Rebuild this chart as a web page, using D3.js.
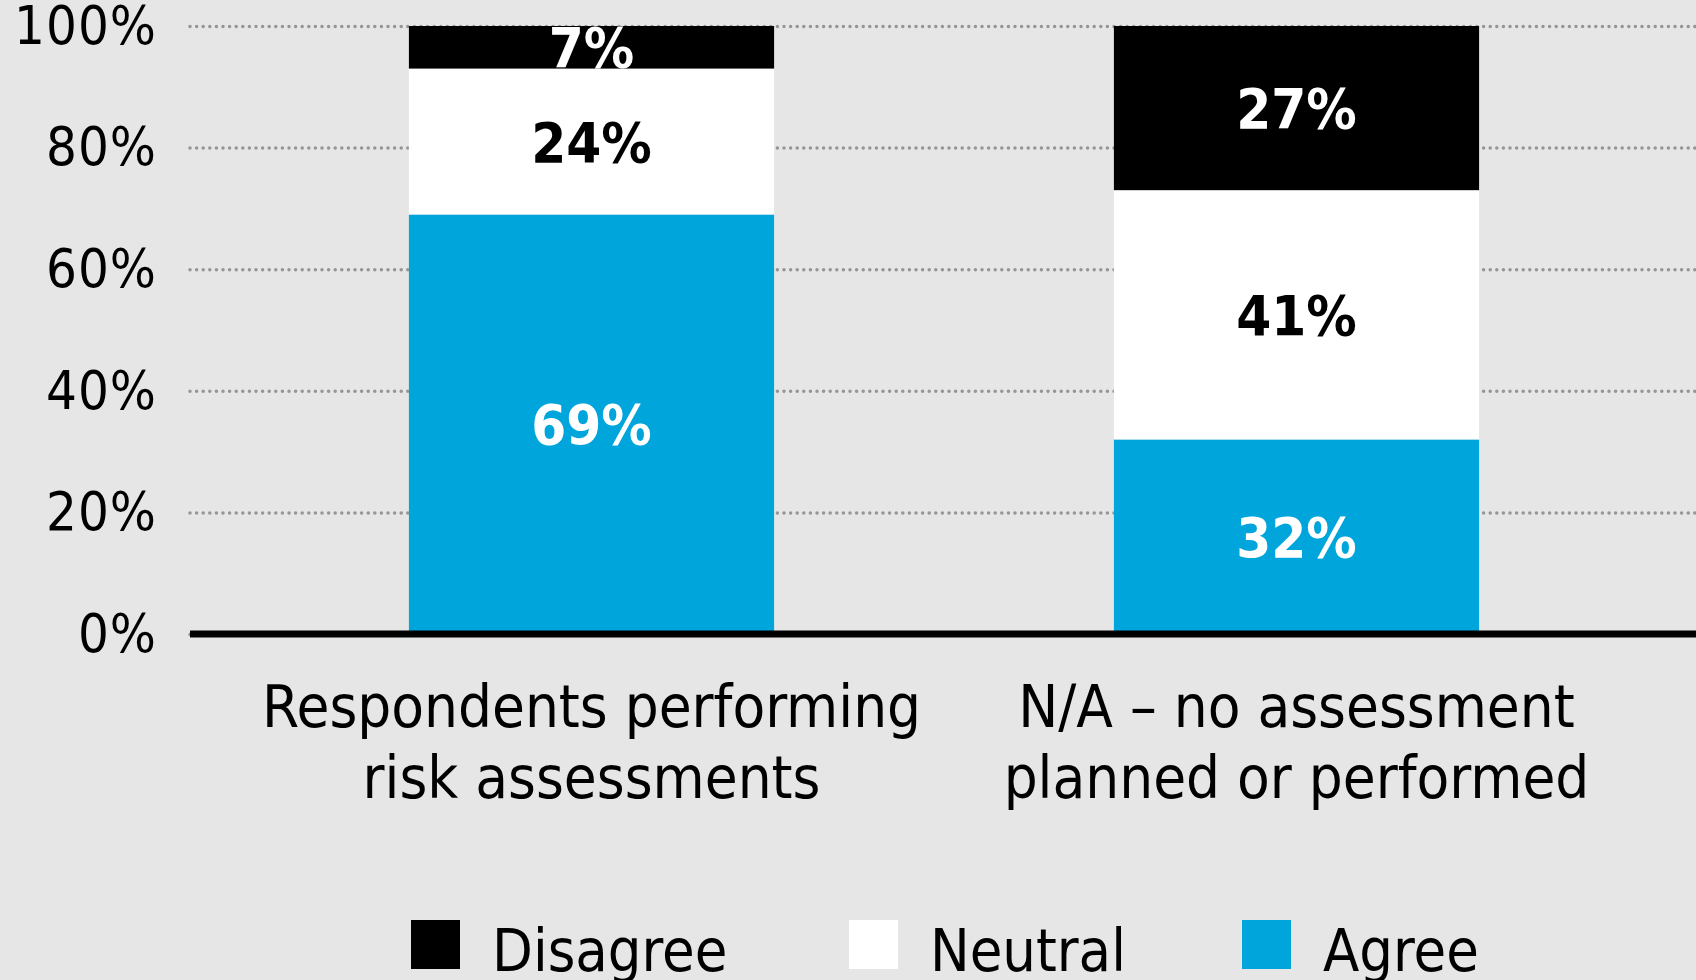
<!DOCTYPE html>
<html>
<head>
<meta charset="utf-8">
<script src="https://cdn.jsdelivr.net/npm/d3@7"></script>
<style>
  body { margin: 0; background: #e6e6e6; }
  svg { display: block; }
  .axis text { font-family: "DejaVu Sans Condensed", "Liberation Sans Narrow", sans-serif; }
</style>
</head>
<body>
<script>
var width = 1696;
var height = 980;

// data
var categories = ["Respondents performing risk assessments", "N/A \u2013 no assessment planned or performed"];
var catLines = [["Respondents performing", "risk assessments"], ["N/A \u2013 no assessment", "planned or performed"]];
var seriesNames = ["Agree", "Neutral", "Disagree"];
var agree = [69, 32];
var neutral = [24, 41];
var disagree = [7, 27];
var yTicks = [0, 20, 40, 60, 80, 100];
var legendOrder = ["Disagree", "Neutral", "Agree"];

var colors = {Agree: "#00a5db", Neutral: "#ffffff", Disagree: "#000000"};
var labelColors = {Agree: "#ffffff", Neutral: "#000000", Disagree: "#ffffff"};
var font = "'DejaVu Sans Condensed', 'Liberation Sans Narrow', sans-serif";

var left = 190;
var x = d3.scaleBand().domain(categories).range([239, 1649]).paddingInner(0.482).paddingOuter(0.241);
var y = d3.scaleLinear().domain([0, 100]).range([634, 26]);

var svg = d3.select("body").append("svg")
    .attr("width", width)
    .attr("height", height);

svg.append("rect").attr("width", width).attr("height", height).attr("fill", "#e6e6e6");

// gridlines + y labels
var yAxis = svg.append("g")
    .attr("class", "axis")
    .attr("transform", "translate(" + left + ",0)")
    .call(d3.axisLeft(y).tickValues(yTicks).tickFormat(function(d) { return d + "%"; })
      .tickSize(-(width - left)).tickPadding(33));
yAxis.select(".domain").remove();
yAxis.selectAll(".tick line")
    .attr("stroke", "#959595")
    .attr("stroke-width", 3.5)
    .attr("stroke-linecap", "round")
    .attr("stroke-dasharray", "0,6.6");
yAxis.selectAll(".tick text")
    .attr("fill", "#000")
    .style("font-size", "54px")
    .style("letter-spacing", "1px");

// stacked data
var table = categories.map(function(c, i) {
  return {cat: c, Agree: agree[i], Neutral: neutral[i], Disagree: disagree[i]};
});
var stacked = d3.stack().keys(seriesNames)(table);

var layers = svg.selectAll(".layer")
    .data(stacked)
    .enter().append("g")
    .attr("class", "layer")
    .attr("fill", function(d) { return colors[d.key]; });

layers.selectAll("rect")
    .data(function(d) { return d; })
    .enter().append("rect")
    .attr("x", function(d) { return x(d.data.cat); })
    .attr("width", x.bandwidth())
    .attr("y", function(d) { return y(d[1]); })
    .attr("height", function(d) { return y(d[0]) - y(d[1]); });

// value labels
stacked.forEach(function(s) {
  svg.append("g").selectAll("text")
    .data(s)
    .enter().append("text")
    .attr("x", function(d) { return x(d.data.cat) + x.bandwidth() / 2; })
    .attr("y", function(d) { return y((d[0] + d[1]) / 2); })
    .attr("dy", "0.36em")
    .attr("text-anchor", "middle")
    .attr("fill", labelColors[s.key])
    .style("font-family", font)
    .style("font-weight", "bold")
    .style("font-size", "56px")
    .text(function(d) { return (d[1] - d[0]) + "%"; });
});

// baseline
svg.append("line")
    .attr("x1", left).attr("x2", width)
    .attr("y1", y(0)).attr("y2", y(0))
    .attr("stroke", "#000")
    .attr("stroke-width", 7);

// category labels
categories.forEach(function(c, i) {
  var t = svg.append("text")
    .attr("x", x(c) + x.bandwidth() / 2)
    .attr("y", 727)
    .attr("text-anchor", "middle")
    .attr("fill", "#000")
    .style("font-family", font)
    .style("font-size", "59.5px");
  catLines[i].forEach(function(l, j) {
    t.append("tspan")
      .attr("x", x(c) + x.bandwidth() / 2)
      .attr("dy", j == 0 ? 0 : 71)
      .text(l);
  });
});

// legend
var legX = [411, 849, 1242];
var leg = svg.selectAll(".leg")
    .data(legendOrder)
    .enter().append("g")
    .attr("class", "leg")
    .attr("transform", function(d, i) { return "translate(" + legX[i] + ",920)"; });
leg.append("rect")
    .attr("width", 49).attr("height", 49)
    .attr("fill", function(d) { return colors[d]; });
leg.append("text")
    .attr("x", 81).attr("y", 51)
    .attr("fill", "#000")
    .style("font-family", font)
    .style("font-size", "59px")
    .text(function(d) { return d; });
</script>
</body>
</html>
